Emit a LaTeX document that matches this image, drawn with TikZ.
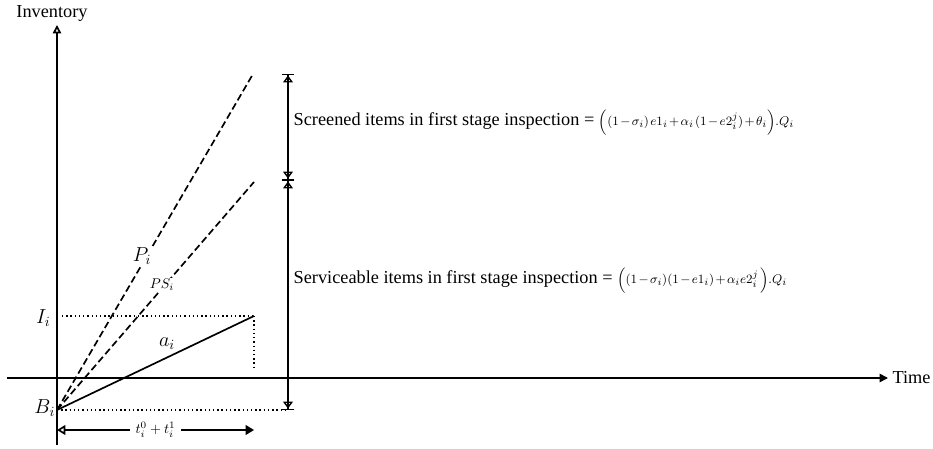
\documentclass[tikz,border=0pt]{standalone}
\usepackage{fontspec}
\setmainfont{Liberation Serif}
\usetikzlibrary{arrows.meta}

\tikzset{
  axis/.style={line width=1.2pt},
  rate/.style={line width=1.2pt, dash pattern=on 5pt off 2.5pt},
  guide/.style={line width=1pt, dotted},
  dimline/.style={line width=1pt,
    {Bar[width=9pt]Triangle[open,length=5pt,width=7pt]}-{Triangle[open,length=5pt,width=7pt]Bar[width=9pt]}},
  txt/.style={font=\fontsize{13}{15}\selectfont, inner sep=1pt},
  sym/.style={font=\fontsize{14}{16}\selectfont, inner sep=1pt},
}
\newcommand{\eqsize}{\fontsize{9.5}{11}\selectfont\medmuskip=2mu\thinmuskip=2mu}

\begin{document}
\begin{tikzpicture}
        \useasboundingbox (0,0) rectangle (23.325,11.2);

        % Key points
        \coordinate (B) at (1.425,0.95);
        \coordinate (ybot) at (1.425,0.075);
        \coordinate (ytop) at (1.425,10.575);
        \coordinate (xleft) at (0.175,1.75);
        \coordinate (xright) at (22.2,1.75);
        \coordinate (Pend) at (6.325,9.35);
        \coordinate (PSend) at (6.35,6.65);
        \coordinate (aend) at (6.35,3.3);
        \coordinate (Iaxis) at (1.55,3.3);
        \coordinate (afoot) at (6.35,1.95);
        \coordinate (dimtop) at (7.2,9.35);
        \coordinate (dimmid) at (7.2,6.7);
        \coordinate (dimbot) at (7.2,0.95);
        \coordinate (tstart) at (1.425,0.45);
        \coordinate (tend) at (6.35,0.45);

        % Axes
        \draw[axis, -{Triangle[open,length=6pt,width=6pt]}] (ybot) -- (ytop);
        \node[txt, anchor=south] (inv) at (1.3,10.62) {Inventory};
        \draw[axis, -{Triangle[length=6pt,width=6pt]}] (xleft) -- (xright);
        \node[txt, anchor=west] (time) at (xright) {\hspace{2pt}Time};

        % Rates from B_i
        \draw[rate] (B) -- (Pend);
        \draw[rate] (B) -- (PSend);
        \draw[axis] (B) -- (aend);
        \node[sym, fill=white] (Plbl) at (3.55,4.8) {$P_i$};
        \node[font=\fontsize{10}{12}\selectfont, fill=white, inner sep=1pt] (PSlbl) at (4.05,4.075) {$PS_i$};
        \node[sym] (albl) at (4.175,2.6) {$a_i$};

        % Levels
        \draw[guide] (Iaxis) -- (aend);
        \draw[guide] (aend) -- (afoot);
        \draw[guide] (B) -- (dimbot);
        \node[sym] (Ilbl) at (1.08,3.25) {$I_i$};
        \node[sym] (Blbl) at (1.12,1.0) {$B_i$};

        % Quantities
        \draw[dimline] (dimtop) -- (dimmid);
        \draw[dimline] (dimmid) -- (dimbot);
        \node[txt, anchor=west] (screened) at (7.3,8.15)
          {Screened items in first stage inspection = {\eqsize$\Big((1-\sigma_i)\,e1_i+\alpha_i\,(1-e2_i^j)+\theta_i\Big).Q_i$}};
        \node[txt, anchor=west] (service) at (7.3,4.2)
          {Serviceable items in first stage inspection = {\eqsize$\Big((1-\sigma_i)(1-e1_i)+\alpha_i e2_i^j\,\Big).Q_i$}};

        % Cycle length
        \draw[axis, {Triangle[open,length=6pt,width=7pt]}-{Triangle[length=6pt,width=7pt]}] (tstart) -- (tend)
          node[midway, fill=white, font=\fontsize{10}{12}\selectfont, inner xsep=4pt] (tlbl) {$t_i^0+t_i^1$};
    \end{tikzpicture}
\end{document}
